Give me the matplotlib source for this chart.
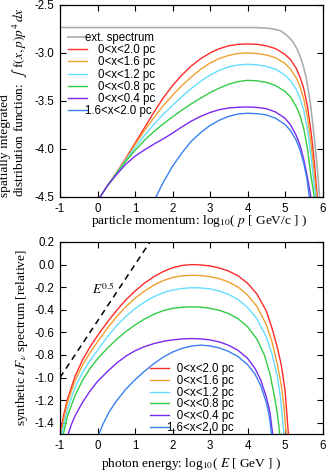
import matplotlib
matplotlib.use("Agg")
import matplotlib.pyplot as plt

plt.rcParams['font.family'] = ['Liberation Sans', 'DejaVu Sans']
plt.rcParams['mathtext.fontset'] = 'stix'
plt.rcParams['axes.unicode_minus'] = False

# ---- top panel: spatially integrated distribution function ----
p_ext = [-1.0, 4.2, 4.5, 4.7, 4.87, 5.0, 5.13, 5.22, 5.31, 5.4, 5.49, 5.56, 5.62, 5.68, 5.75, 5.8, 5.86, 5.92]
f_ext = [-2.735, -2.735, -2.74, -2.752, -2.767, -2.80, -2.847, -2.89, -2.95, -3.03, -3.14, -3.25, -3.385, -3.54, -3.77, -3.96, -4.19, -4.5]

p_20 = [0.07, 0.25, 0.5, 0.75, 1.0, 1.25, 1.5, 1.75, 2.0, 2.25, 2.5, 2.75, 3.0, 3.25, 3.5, 3.75, 4.0, 4.25, 4.5, 4.75, 5.0, 5.15, 5.3, 5.4, 5.5, 5.6, 5.7, 5.78, 5.86]
f_20 = [-4.50, -4.39, -4.25, -4.10, -3.94, -3.78, -3.62, -3.47, -3.34, -3.23, -3.135, -3.06, -3.00, -2.955, -2.925, -2.91, -2.906, -2.91, -2.925, -2.955, -3.015, -3.07, -3.16, -3.25, -3.37, -3.56, -3.84, -4.13, -4.5]

p_16 = [0.07, 0.25, 0.5, 0.75, 1.0, 1.25, 1.5, 1.75, 2.0, 2.25, 2.5, 2.75, 3.0, 3.25, 3.5, 3.75, 4.0, 4.25, 4.5, 4.75, 5.0, 5.15, 5.3, 5.4, 5.5, 5.6, 5.7, 5.77, 5.84]
f_16 = [-4.50, -4.39, -4.25, -4.11, -3.955, -3.81, -3.675, -3.55, -3.44, -3.34, -3.25, -3.17, -3.105, -3.057, -3.025, -3.005, -3.0, -3.005, -3.02, -3.05, -3.11, -3.17, -3.26, -3.35, -3.48, -3.67, -3.96, -4.22, -4.5]

p_12 = [0.07, 0.25, 0.5, 0.75, 1.0, 1.25, 1.5, 1.75, 2.0, 2.25, 2.5, 2.75, 3.0, 3.25, 3.5, 3.75, 4.0, 4.25, 4.5, 4.75, 5.0, 5.15, 5.3, 5.4, 5.5, 5.6, 5.7, 5.76, 5.82]
f_12 = [-4.50, -4.39, -4.255, -4.12, -3.985, -3.86, -3.745, -3.64, -3.545, -3.455, -3.37, -3.295, -3.23, -3.18, -3.145, -3.125, -3.118, -3.123, -3.14, -3.17, -3.23, -3.29, -3.38, -3.47, -3.60, -3.80, -4.10, -4.32, -4.5]

p_08 = [0.07, 0.25, 0.5, 0.75, 1.0, 1.25, 1.5, 1.75, 2.0, 2.25, 2.5, 2.75, 3.0, 3.25, 3.5, 3.75, 4.0, 4.25, 4.5, 4.75, 5.0, 5.15, 5.3, 5.4, 5.5, 5.6, 5.68, 5.78]
f_08 = [-4.50, -4.39, -4.26, -4.13, -4.015, -3.91, -3.82, -3.74, -3.665, -3.595, -3.53, -3.47, -3.413, -3.365, -3.325, -3.298, -3.285, -3.29, -3.305, -3.34, -3.40, -3.46, -3.56, -3.65, -3.79, -4.0, -4.25, -4.5]

p_04 = [0.07, 0.25, 0.5, 0.75, 1.0, 1.25, 1.5, 1.75, 2.0, 2.25, 2.5, 2.75, 3.0, 3.25, 3.5, 3.75, 4.0, 4.25, 4.5, 4.75, 5.0, 5.15, 5.3, 5.4, 5.5, 5.6, 5.69]
f_04 = [-4.50, -4.39, -4.27, -4.16, -4.075, -4.01, -3.95, -3.895, -3.835, -3.77, -3.71, -3.66, -3.62, -3.59, -3.573, -3.565, -3.5625, -3.567, -3.58, -3.615, -3.68, -3.75, -3.86, -3.96, -4.11, -4.30, -4.5]

p_1620 = [1.56, 1.75, 2.0, 2.25, 2.5, 2.75, 3.0, 3.25, 3.5, 3.75, 4.0, 4.25, 4.5, 4.75, 5.0, 5.15, 5.3, 5.4, 5.5, 5.58, 5.65]
f_1620 = [-4.5, -4.35, -4.18, -4.04, -3.92, -3.83, -3.755, -3.70, -3.66, -3.635, -3.628, -3.632, -3.645, -3.68, -3.745, -3.81, -3.91, -4.01, -4.15, -4.30, -4.5]

# ---- bottom panel: synthetic nuF_nu spectrum ----
e_20 = [-1.0, -0.9, -0.8, -0.6, -0.4, -0.2, 0.0, 0.25, 0.5, 0.75, 1.0, 1.25, 1.5, 1.75, 2.0, 2.25, 2.5, 2.75, 3.0, 3.25, 3.5, 3.75, 4.0, 4.25, 4.5, 4.65, 4.8, 4.9, 5.0, 5.09]
s_20 = [-1.50, -1.33, -1.19, -0.99, -0.845, -0.73, -0.63, -0.515, -0.41, -0.315, -0.235, -0.165, -0.108, -0.062, -0.029, -0.008, 0.0, -0.003, -0.012, -0.03, -0.058, -0.10, -0.165, -0.26, -0.41, -0.56, -0.74, -0.89, -1.11, -1.5]

e_16 = [-0.97, -0.9, -0.8, -0.6, -0.4, -0.2, 0.0, 0.25, 0.5, 0.75, 1.0, 1.25, 1.5, 1.75, 2.0, 2.25, 2.5, 2.75, 3.0, 3.25, 3.5, 3.75, 4.0, 4.25, 4.5, 4.65, 4.8, 4.9, 4.97, 5.03]
s_16 = [-1.50, -1.37, -1.22, -1.03, -0.89, -0.78, -0.685, -0.57, -0.465, -0.375, -0.298, -0.235, -0.183, -0.142, -0.115, -0.1, -0.095, -0.097, -0.107, -0.125, -0.155, -0.20, -0.27, -0.37, -0.53, -0.68, -0.89, -1.07, -1.25, -1.5]

e_12 = [-0.95, -0.9, -0.8, -0.6, -0.4, -0.2, 0.0, 0.25, 0.5, 0.75, 1.0, 1.25, 1.5, 1.75, 2.0, 2.25, 2.5, 2.75, 3.0, 3.25, 3.5, 3.75, 4.0, 4.25, 4.5, 4.65, 4.8, 4.88, 4.97]
s_12 = [-1.50, -1.42, -1.28, -1.09, -0.955, -0.85, -0.76, -0.645, -0.545, -0.46, -0.39, -0.332, -0.285, -0.249, -0.226, -0.212, -0.205, -0.207, -0.215, -0.235, -0.265, -0.31, -0.38, -0.48, -0.64, -0.79, -1.0, -1.18, -1.5]

e_08 = [-0.91, -0.8, -0.6, -0.4, -0.2, 0.0, 0.25, 0.5, 0.75, 1.0, 1.25, 1.5, 1.75, 2.0, 2.25, 2.5, 2.75, 3.0, 3.25, 3.5, 3.75, 4.0, 4.25, 4.45, 4.6, 4.72, 4.8, 4.86]
s_08 = [-1.50, -1.34, -1.16, -1.025, -0.92, -0.835, -0.745, -0.665, -0.595, -0.535, -0.483, -0.44, -0.408, -0.388, -0.378, -0.375, -0.377, -0.387, -0.405, -0.435, -0.48, -0.55, -0.66, -0.80, -0.97, -1.17, -1.33, -1.5]

e_04 = [-0.78, -0.7, -0.6, -0.4, -0.2, 0.0, 0.25, 0.5, 0.75, 1.0, 1.25, 1.5, 1.75, 2.0, 2.25, 2.5, 2.75, 3.0, 3.25, 3.5, 3.75, 4.0, 4.2, 4.35, 4.5, 4.6, 4.67]
s_04 = [-1.50, -1.42, -1.34, -1.22, -1.12, -1.035, -0.952, -0.875, -0.812, -0.763, -0.727, -0.7, -0.68, -0.667, -0.659, -0.655, -0.658, -0.667, -0.685, -0.715, -0.76, -0.83, -0.92, -1.02, -1.17, -1.31, -1.5]

e_1620 = [0.04, 0.15, 0.3, 0.5, 0.75, 1.0, 1.25, 1.5, 1.75, 2.0, 2.25, 2.5, 2.75, 3.0, 3.25, 3.5, 3.75, 4.0, 4.2, 4.35, 4.5, 4.58, 4.64]
s_1620 = [-1.50, -1.41, -1.31, -1.21, -1.105, -1.02, -0.945, -0.878, -0.82, -0.775, -0.742, -0.722, -0.713, -0.72, -0.738, -0.77, -0.815, -0.885, -0.97, -1.07, -1.22, -1.34, -1.5]

e_ref = [-1.0, 1.4]
s_ref = [-1.0, 0.2]

labels_top = ["ext. spectrum", "    0<x<2.0 pc", "    0<x<1.6 pc", "    0<x<1.2 pc",
              "    0<x<0.8 pc", "    0<x<0.4 pc", "1.6<x<2.0 pc"]
labels_bot = ["   0<x<2.0 pc", "   0<x<1.6 pc", "   0<x<1.2 pc",
              "   0<x<0.8 pc", "   0<x<0.4 pc", "1.6<x<2.0 pc"]
colors = ['#ff2a2a', '#f0a030', '#66ddff', '#33cc44', '#7a2af0', '#3a80f0']
gray = '#a9b0b2'

serif = ['Liberation Serif', 'DejaVu Serif']
fs = 8.3
lfs = 9.6


def style(ax):
    ax.tick_params(direction='in', top=True, right=True, length=4, width=0.8,
                   labelsize=fs, pad=4)
    for s in ax.spines.values():
        s.set_linewidth(0.9)


fig = plt.figure(figsize=(3.27, 4.74), dpi=100)
ax1 = fig.add_axes([0.1835, 0.5844, 0.8028, 0.4051])
ax2 = fig.add_axes([0.1835, 0.0844, 0.8028, 0.4051])

lw = 1.0
ax1.plot(p_ext, f_ext, color=gray, lw=1.2, label=labels_top[0])
tops = [(p_20, f_20), (p_16, f_16), (p_12, f_12), (p_08, f_08), (p_04, f_04), (p_1620, f_1620)]
for (px, fy), c, lab in zip(tops, colors, labels_top[1:]):
    ax1.plot(px, fy, color=c, lw=lw, label=lab)
ax1.set_xlim(-1, 6)
ax1.set_ylim(-4.5, -2.5)
ax1.set_xticks(range(-1, 7))
ax1.set_yticks([-2.5, -3.0, -3.5, -4.0, -4.5])
ax1.set_yticklabels(['-2.5', '-3.0', '-3.5', '-4.0', '-4.5'])
style(ax1)
ax1.set_xlabel(r"particle momentum: log$_{10}$( $p$ [ GeV/c ] )", family=serif, fontsize=lfs)
ax1.xaxis.set_label_coords(0.53, -0.085)
fig.text(0.045, 0.5844, "spatially integrated\ndistribution function:  $\\int$ f$(x,p)p^4\\,dx$",
         rotation=90, ha='center', va='bottom', multialignment='left', family=serif,
         fontsize=lfs, linespacing=0.95)
ax1.legend(loc='upper left', bbox_to_anchor=(0.03, 0.86), frameon=False, fontsize=fs,
           handlelength=1.65, handletextpad=-0.2, labelspacing=0.02, borderpad=0, borderaxespad=0)

bots = [(e_20, s_20), (e_16, s_16), (e_12, s_12), (e_08, s_08), (e_04, s_04), (e_1620, s_1620)]
for (ex, sy), c, lab in zip(bots, colors, labels_bot):
    ax2.plot(ex, sy, color=c, lw=lw, label=lab)
ax2.plot(e_ref, s_ref, color='black', lw=1.1, ls=(0, (4, 3)))
ax2.text(0.15, -0.22, r"$E^{0.5}$", ha='center', va='center', family=serif, fontsize=lfs)
ax2.set_xlim(-1, 6)
ax2.set_ylim(-1.5, 0.2)
ax2.set_xticks(range(-1, 7))
yt = [0.2, 0.0, -0.2, -0.4, -0.6, -0.8, -1.0, -1.2, -1.4]
ax2.set_yticks(yt)
ax2.set_yticklabels([f"{v:.1f}" for v in yt])
style(ax2)
ax2.set_xlabel(r"photon energy: log$_{10}$( $E$ [ GeV ] )", family=serif, fontsize=lfs, labelpad=3)
ax2.set_ylabel(r"synthetic $\nu F_\nu$ spectrum [relative]", family=serif, fontsize=lfs, labelpad=3)
ax2.legend(loc='lower left', bbox_to_anchor=(0.343, 0.0), frameon=False, fontsize=fs,
           handlelength=1.65, handletextpad=-0.2, labelspacing=-0.02, borderpad=0, borderaxespad=0)

fig.savefig("out.png", dpi=100)
